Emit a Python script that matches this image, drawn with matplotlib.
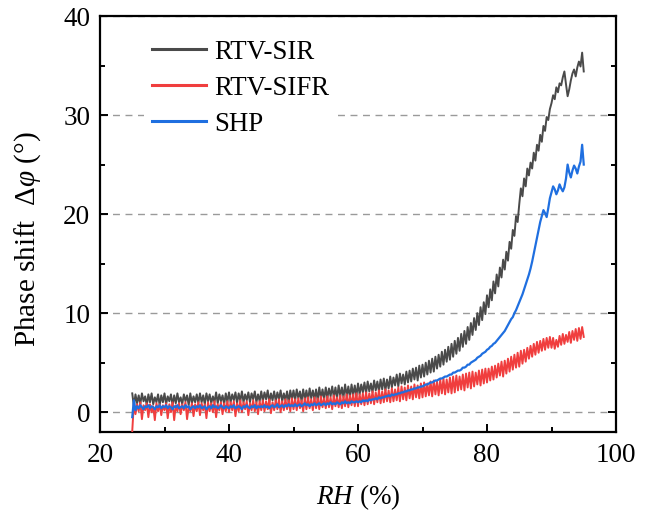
import numpy as np
import matplotlib
matplotlib.use("Agg")
import matplotlib.pyplot as plt
from matplotlib.ticker import MultipleLocator

# ---- data ----
rh = np.arange(25.0, 95.001, 0.25)

rtv_sir = [
    1.9, 0.6, 1.8, 0.9, 1.7, 0.8, 1.9, 1.1, 1.6, 0.7, 1.8, 1.0, 1.9, 0.8, 1.5, 1.0, 1.8, 0.7, 1.7, 1.0,
    1.9, 0.8, 1.6, 1.1, 1.8, 0.7, 1.7, 0.9, 1.9, 1.0, 1.5, 0.8, 1.8, 1.1, 1.7, 0.7, 1.9, 0.9, 1.6, 1.0,
    1.8, 0.9, 1.9, 1.0, 1.7, 0.8, 1.9, 1.1, 1.8, 0.9, 1.6, 1.0, 2.0, 0.9, 1.8, 1.1, 1.7, 0.8, 1.9, 1.0,
    2.0, 1.0, 1.8, 1.2, 2.0, 0.9, 1.9, 1.1, 2.1, 1.0, 1.8, 1.2, 2.0, 1.0, 1.9, 1.3, 2.1, 1.0, 1.8, 1.1,
    2.1, 1.1, 2.0, 1.3, 2.2, 1.0, 1.9, 1.2, 2.1, 1.1, 2.0, 1.3, 2.2, 1.1, 1.9, 1.2, 2.1, 1.0, 2.2, 1.3,
    2.2, 1.2, 2.3, 1.4, 2.1, 1.1, 2.3, 1.3, 2.2, 1.2, 2.4, 1.4, 2.2, 1.3, 2.3, 1.2, 2.5, 1.4, 2.3, 1.3,
    2.5, 1.4, 2.4, 1.6, 2.6, 1.5, 2.5, 1.4, 2.7, 1.6, 2.5, 1.5, 2.8, 1.6, 2.6, 1.5, 2.8, 1.7, 2.7, 1.6,
    2.9, 1.8, 2.8, 2.0, 3.0, 1.9, 3.1, 2.1, 2.9, 2.0, 3.2, 2.2, 3.1, 2.1, 3.3, 2.3, 3.4, 2.2, 3.3, 2.4,
    3.6, 2.5, 3.5, 2.7, 3.8, 2.6, 3.9, 2.9, 3.8, 2.8, 4.1, 3.0, 4.2, 3.1, 4.4, 3.3, 4.5, 3.2, 4.7, 3.5,
    4.8, 3.6, 5.0, 3.8, 5.2, 4.0, 5.4, 4.1, 5.6, 4.4, 5.8, 4.6, 6.1, 4.8, 6.3, 5.1, 6.6, 5.3, 6.9, 5.6,
    7.2, 5.9, 7.5, 6.2, 7.9, 6.6, 8.2, 6.9, 8.6, 7.3, 9.0, 7.8, 9.5, 8.3, 10.0, 8.8, 10.6, 9.3, 11.1, 9.9,
    11.8, 10.6, 12.4, 11.3, 13.2, 12.0, 13.9, 12.7, 14.6, 13.6, 15.4, 14.4, 16.2, 15.3, 17.2, 16.5, 18.4, 17.8, 19.8, 19.2,
    21.0, 22.6, 21.8, 23.6, 22.8, 24.6, 23.9, 25.2, 24.6, 26.2, 25.4, 27.0, 26.4, 28.0, 27.3, 28.9, 28.4, 29.8, 29.5, 30.6,
    31.2, 32.0, 31.6, 32.8, 32.3, 33.2, 33.0, 33.8, 34.4, 33.1, 31.9, 32.6, 33.5, 34.2, 34.6, 33.9, 34.8, 35.4, 34.9, 36.3,
    34.4,
]

rtv_sifr = [
    -1.9, 0.9, -0.2, 0.8, 0.1, 1.0, -0.7, 0.7, 0.2, 0.9, -0.5, 0.8, 0.0, 0.6, -0.8, 0.9, 0.1, 0.8, -0.3, 0.7,
    0.2, 0.9, -0.6, 0.8, 0.0, 1.0, -0.8, 0.7, 0.1, 0.9, -0.2, 0.8, 0.2, 1.0, -0.7, 0.6, 0.1, 0.9, -0.4, 0.8,
    0.1, 1.0, -0.3, 0.9, 0.2, 0.8, -0.6, 1.0, 0.1, 0.9, 0.0, 1.1, -0.5, 0.8, 0.2, 1.0, -0.2, 0.9, 0.1, 1.1,
    0.0, 1.0, 0.2, 1.1, -0.4, 0.9, 0.1, 1.2, 0.0, 1.0, 0.3, 1.1, -0.3, 0.9, 0.2, 1.2, 0.1, 1.0, -0.2, 1.1,
    0.2, 1.2, 0.1, 1.1, 0.3, 1.3, -0.1, 1.0, 0.2, 1.2, 0.3, 1.3, 0.0, 1.1, 0.2, 1.3, 0.3, 1.2, 0.1, 1.4,
    0.3, 1.3, 0.2, 1.4, 0.4, 1.2, 0.1, 1.4, 0.3, 1.5, 0.4, 1.3, 0.2, 1.5, 0.4, 1.4, 0.3, 1.6, 0.5, 1.4,
    0.4, 1.6, 0.5, 1.5, 0.3, 1.7, 0.6, 1.5, 0.5, 1.7, 0.4, 1.6, 0.6, 1.8, 0.5, 1.7, 0.7, 1.8, 0.6, 1.9,
    0.6, 1.8, 0.8, 1.9, 0.7, 2.0, 0.8, 1.9, 0.9, 2.1, 0.8, 2.0, 1.0, 2.2, 0.9, 2.1, 1.0, 2.3, 1.1, 2.2,
    1.0, 2.4, 1.1, 2.3, 1.2, 2.5, 1.1, 2.6, 1.3, 2.5, 1.2, 2.7, 1.4, 2.6, 1.3, 2.8, 1.5, 2.7, 1.4, 2.9,
    1.5, 3.0, 1.6, 2.9, 1.7, 3.1, 1.6, 3.2, 1.8, 3.1, 1.7, 3.3, 1.9, 3.4, 1.8, 3.3, 2.0, 3.5, 1.9, 3.6,
    2.0, 3.7, 2.2, 3.6, 2.3, 3.8, 2.2, 3.9, 2.5, 4.0, 2.4, 4.1, 2.6, 4.0, 2.8, 4.2, 2.7, 4.3, 2.9, 4.4,
    3.0, 4.4, 3.2, 4.6, 3.3, 4.7, 3.5, 4.9, 3.7, 5.1, 3.6, 5.2, 3.9, 5.4, 4.1, 5.6, 4.3, 5.8, 4.5, 6.0,
    4.6, 6.2, 4.9, 6.3, 5.1, 6.5, 5.4, 6.7, 5.6, 6.9, 5.8, 7.1, 6.0, 7.2, 6.2, 7.4, 6.3, 7.5, 6.5, 7.6,
    6.5, 7.5, 6.4, 7.3, 6.6, 7.7, 6.8, 7.9, 6.9, 7.8, 7.1, 8.1, 7.0, 8.2, 7.3, 8.4, 7.2, 8.5, 7.4, 8.6,
    7.6,
]

shp = [
    -0.5, 1.2, 0.2, 0.6, 0.4, 0.7, 0.5, 0.3, 0.6, 0.5, 0.7, 0.4, 0.6, 0.5, 0.3, 0.6, 0.5, 0.7, 0.4, 0.6,
    0.5, 0.7, 0.4, 0.6, 0.5, 0.3, 0.6, 0.5, 0.7, 0.4, 0.5, 0.6, 0.4, 0.7, 0.5, 0.6, 0.3, 0.5, 0.6, 0.4,
    0.6, 0.5, 0.7, 0.4, 0.5, 0.6, 0.3, 0.5, 0.6, 0.4, 0.7, 0.5, 0.6, 0.4, 0.5, 0.7, 0.5, 0.4, 0.6, 0.5,
    0.4, 0.6, 0.5, 0.7, 0.4, 0.5, 0.6, 0.5, 0.3, 0.6, 0.5, 0.7, 0.5, 0.4, 0.6, 0.5, 0.7, 0.4, 0.6, 0.5,
    0.6, 0.5, 0.7, 0.5, 0.6, 0.4, 0.6, 0.7, 0.5, 0.6, 0.8, 0.5, 0.6, 0.7, 0.5, 0.7, 0.6, 0.8, 0.6, 0.7,
    0.6, 0.8, 0.6, 0.7, 0.8, 0.6, 0.7, 0.9, 0.7, 0.8, 0.6, 0.8, 0.7, 0.9, 0.7, 0.8, 0.9, 0.7, 0.8, 0.9,
    0.7, 0.9, 0.8, 1.0, 0.8, 0.9, 0.8, 1.0, 0.9, 0.8, 1.0, 0.9, 1.1, 0.9, 1.0, 0.9, 1.1, 1.0, 1.0, 1.1,
    1.0, 1.1, 1.0, 1.2, 1.1, 1.2, 1.1, 1.3, 1.2, 1.3, 1.3, 1.4, 1.3, 1.5, 1.4, 1.5, 1.5, 1.6, 1.6, 1.7,
    1.6, 1.8, 1.7, 1.8, 1.8, 1.9, 1.9, 2.0, 2.0, 2.1, 2.1, 2.2, 2.2, 2.3, 2.3, 2.4, 2.4, 2.5, 2.5, 2.6,
    2.6, 2.7, 2.8, 2.8, 2.9, 3.0, 3.0, 3.1, 3.2, 3.2, 3.3, 3.4, 3.4, 3.5, 3.6, 3.6, 3.7, 3.8, 3.8, 4.0,
    4.0, 4.1, 4.2, 4.2, 4.3, 4.5, 4.5, 4.6, 4.8, 4.8, 5.0, 5.1, 5.2, 5.3, 5.5, 5.6, 5.7, 5.9, 6.0, 6.1,
    6.3, 6.4, 6.6, 6.7, 6.9, 7.0, 7.2, 7.4, 7.6, 7.8, 8.0, 8.2, 8.5, 8.8, 9.1, 9.4, 9.6, 10.0, 10.3, 10.7,
    11.1, 11.5, 11.9, 12.4, 12.9, 13.4, 13.9, 14.5, 15.2, 16.0, 16.8, 17.6, 18.4, 19.2, 19.8, 20.4, 20.1, 19.7, 20.6, 21.6,
    22.2, 22.8, 22.5, 22.0, 22.4, 23.0, 22.6, 22.3, 22.7, 23.6, 25.0, 24.2, 23.7, 24.4, 24.9, 24.6, 24.1, 24.8, 25.3, 27.0,
    25.0,
]

labels = ["RTV-SIR", "RTV-SIFR", "SHP"]
colors = ["#4a4a4a", "#f03e3e", "#1f6fe0"]
widths = [1.4, 1.4, 1.6]

# ---- style ----
plt.rcParams["font.family"] = ["Liberation Serif", "DejaVu Serif"]
plt.rcParams["mathtext.fontset"] = "custom"
plt.rcParams["mathtext.rm"] = "Liberation Serif"
plt.rcParams["mathtext.it"] = "Liberation Serif:italic"

fig = plt.figure(figsize=(6.57, 5.12), dpi=100)
ax = fig.add_axes([100 / 657, 80 / 512, 516 / 657, 416 / 512])

for y, lab, c, w in zip([rtv_sir, rtv_sifr, shp], labels, colors, widths):
    ax.plot(rh, y, color=c, lw=w, label=lab, zorder=3)

ax.set_xlim(20, 100)
ax.set_ylim(-2, 40)
ax.xaxis.set_major_locator(MultipleLocator(20))
ax.xaxis.set_minor_locator(MultipleLocator(10))
ax.yaxis.set_major_locator(MultipleLocator(10))
ax.yaxis.set_minor_locator(MultipleLocator(5))

ax.yaxis.grid(True, which="major", linestyle=(0, (5, 4)), color="#9a9a9a", lw=1.0)
ax.set_axisbelow(True)

for s in ax.spines.values():
    s.set_linewidth(1.6)

ax.tick_params(which="both", direction="in", top=False, right=True, width=1.4)
ax.tick_params(which="major", length=6, labelsize=19.5, pad=7)
ax.tick_params(which="minor", length=3.5)
ax.tick_params(axis="x", which="major", pad=8)

ax.set_xlabel(r"$RH$ (%)", fontsize=19.5, labelpad=10)
ax.set_ylabel(r"Phase shift  $\Delta\varphi$ (°)", fontsize=21)
ax.yaxis.set_label_coords(-0.11, 0.464)

leg = ax.legend(loc="upper left", bbox_to_anchor=(0.059, 0.995), fontsize=19.4,
                frameon=True, framealpha=1, facecolor="white", edgecolor="none",
                handlelength=2.0, handletextpad=0.3, labelspacing=0.41,
                borderpad=0.3)
for h in leg.get_lines():
    h.set_linewidth(2.2)

fig.savefig("out.png", dpi=100)
